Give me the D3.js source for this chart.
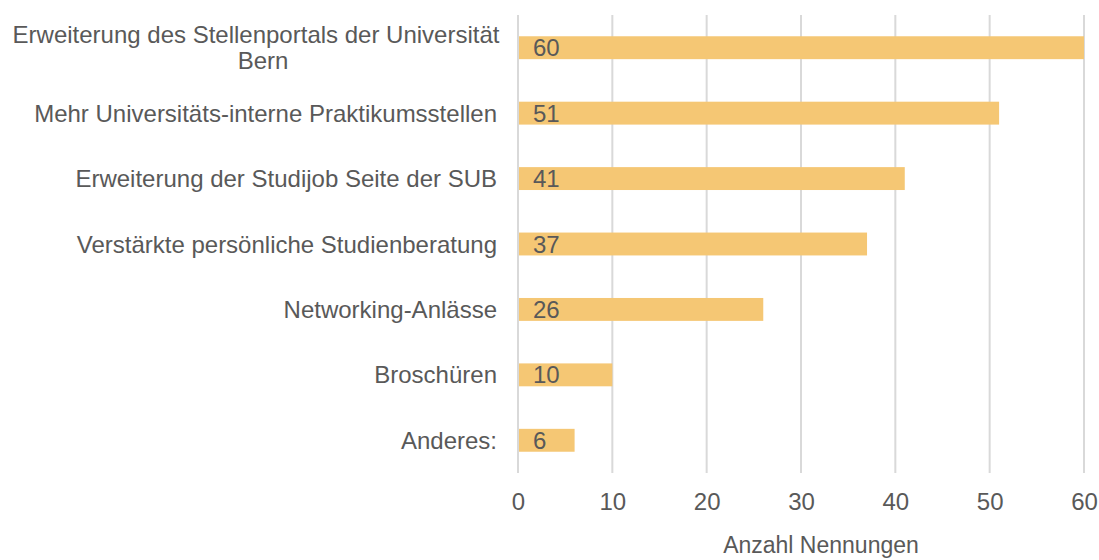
<!DOCTYPE html>
<html>
<head>
<meta charset="utf-8">
<script src="https://cdn.jsdelivr.net/npm/d3@7"></script>
<style>
  body { margin: 0; background: #fff; }
  text { font-family: "Liberation Sans", Arial, sans-serif; fill: #595959; }
</style>
</head>
<body>
<div id="chart"></div>
<script>
const categories = [
  ["Erweiterung des Stellenportals der Universität", "Bern"],
  ["Mehr Universitäts-interne Praktikumsstellen"],
  ["Erweiterung der Studijob Seite der SUB"],
  ["Verstärkte persönliche Studienberatung"],
  ["Networking-Anlässe"],
  ["Broschüren"],
  ["Anderes:"]
]
const values = [60, 51, 41, 37, 26, 10, 6]
const xTicks = [0, 10, 20, 30, 40, 50, 60]
const xTitle = "Anzahl Nennungen"

const margin = { top: 15, left: 518, right: 15, bottom: 87 },
      width = 1099 - margin.left - margin.right,
      height = 560 - margin.top - margin.bottom;

const svg = d3.select("#chart")
    .append("svg")
    .attr("width", 1099)
    .attr("height", 560)

const plot = svg.append("g")
    .attr("transform", "translate(" + margin.left + "," + margin.top + ")")

const x = d3.scaleLinear()
    .domain([0, 60])
    .range([0, 566])

const y = d3.scaleBand()
    .domain(d3.range(categories.length))
    .range([0, height])
    .paddingInner(0.65)
    .paddingOuter(0.325)

// gridlines
plot.selectAll(".grid")
    .data(xTicks)
    .enter()
    .append("line")
      .attr("x1", d => x(d))
      .attr("x2", d => x(d))
      .attr("y1", 0)
      .attr("y2", height)
      .attr("stroke", "#D9D9D9")
      .attr("stroke-width", 2)

// x axis labels
const xAxis = plot.append("g")
    .attr("transform", "translate(0," + height + ")")
    .call(d3.axisBottom(x).tickValues(xTicks).tickSize(0).tickPadding(20))
xAxis.select(".domain").remove()
xAxis.selectAll("text")
    .style("font-size", "24px")
    .style("font-family", "'Liberation Sans', Arial, sans-serif")
    .attr("fill", "#595959")

// bars
plot.selectAll(".bar")
    .data(values)
    .enter()
    .append("rect")
      .attr("x", 1)
      .attr("y", (d, i) => y(i))
      .attr("width", d => x(d) - 1)
      .attr("height", y.bandwidth())
      .attr("fill", "#F5C774")

// value labels
plot.selectAll(".val")
    .data(values)
    .enter()
    .append("text")
      .attr("x", 15)
      .attr("y", (d, i) => y(i) + y.bandwidth() / 2)
      .attr("dy", "0.36em")
      .style("font-size", "24px")
      .text(d => d)

// category labels
const labels = plot.selectAll(".cat")
    .data(categories)
    .enter()
    .append("text")
      .attr("y", (d, i) => y(i) + y.bandwidth() / 2)
      .style("font-size", "24px")

labels.each(function(lines) {
  const t = d3.select(this)
  if (lines.length === 1) {
    t.attr("text-anchor", "end")
      .append("tspan")
      .attr("x", -21)
      .attr("dy", "0.36em")
      .text(lines[0])
  } else {
    t.attr("text-anchor", "middle")
    lines.forEach((l, j) => {
      t.append("tspan")
        .attr("x", j === 0 ? -262 : -255)
        .attr("dy", j === 0 ? "-0.2em" : "1.1em")
        .text(l)
    })
  }
})

// axis title
plot.append("text")
    .attr("x", x(30) + 20)
    .attr("y", height + 80)
    .attr("text-anchor", "middle")
    .style("font-size", "23px")
    .text(xTitle)
</script>
</body>
</html>
